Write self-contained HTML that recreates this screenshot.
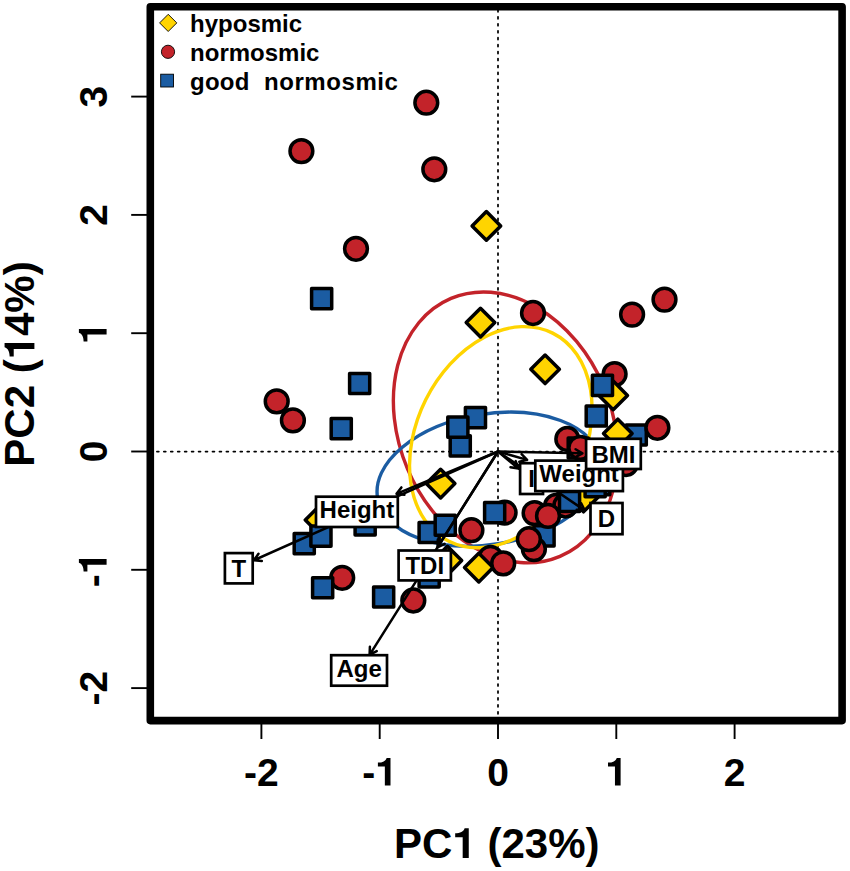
<!DOCTYPE html><html><head><meta charset="utf-8"><style>html,body{margin:0;padding:0;background:#fff}</style></head><body><svg width="850" height="871" viewBox="0 0 850 871" style="display:block;font-family:'Liberation Sans',sans-serif;font-weight:bold">
<rect width="850" height="871" fill="#fff"/>
<g stroke="#000" stroke-width="1.75" stroke-dasharray="1.9 5.05" stroke-dashoffset="-0.75" stroke-linecap="round" fill="none">
<path d="M498.0 9.15V720.6"/>
<path d="M149.20000000000002 451.5H842.1"/>
</g>
<g fill="none" stroke-width="3.4">
<ellipse cx="505.5" cy="427.4" rx="140.0" ry="106.4" transform="rotate(-112.9 505.5 427.4)" stroke="#C3232A"/>
<ellipse cx="489.2" cy="479.2" rx="113.2" ry="65.2" transform="rotate(170.5 489.2 479.2)" stroke="#1B5CA2"/>
<ellipse cx="500.8" cy="437.2" rx="116.3" ry="83.9" transform="rotate(-63.5 500.8 437.2)" stroke="#FFD400"/>
</g>
<g stroke="#000" stroke-width="3.5" stroke-linejoin="round">
<circle cx="426.3" cy="102.7" r="11.4" fill="#C3232A"/>
<circle cx="301.4" cy="151.1" r="11.4" fill="#C3232A"/>
<circle cx="434.3" cy="169.3" r="11.4" fill="#C3232A"/>
<circle cx="356" cy="248.8" r="11.4" fill="#C3232A"/>
<circle cx="276.7" cy="401.4" r="11.4" fill="#C3232A"/>
<circle cx="292.9" cy="420.4" r="11.4" fill="#C3232A"/>
<circle cx="533.0" cy="313.0" r="11.4" fill="#C3232A"/>
<circle cx="664.5" cy="299.6" r="11.4" fill="#C3232A"/>
<circle cx="632.1" cy="314.6" r="11.4" fill="#C3232A"/>
<path d="M486.4 211.6L500.7 225.9L486.4 240.20000000000002L472.09999999999997 225.9Z" fill="#FFD400"/>
<path d="M480.5 308.3L494.8 322.6L480.5 336.90000000000003L466.2 322.6Z" fill="#FFD400"/>
<path d="M545.1 355.0L559.4 369.3L545.1 383.6L530.8000000000001 369.3Z" fill="#FFD400"/>
<rect x="311.6" y="288.6" width="20.1" height="20.1" fill="#1B5CA2"/>
<rect x="349.6" y="373.4" width="20.1" height="20.1" fill="#1B5CA2"/>
<rect x="331.2" y="418.6" width="20.1" height="20.1" fill="#1B5CA2"/>
<rect x="465.4" y="407.6" width="20.1" height="20.1" fill="#1B5CA2"/>
<rect x="450.2" y="435.8" width="20.1" height="20.1" fill="#1B5CA2"/>
<rect x="447.8" y="417.1" width="20.1" height="20.1" fill="#1B5CA2"/>
<circle cx="614.6" cy="374.1" r="11.4" fill="#C3232A"/>
<path d="M613.2 381.09999999999997L627.5 395.4L613.2 409.7L598.9000000000001 395.4Z" fill="#FFD400"/>
<rect x="592.4" y="375.3" width="20.1" height="20.1" fill="#1B5CA2"/>
<rect x="586.2" y="405.9" width="20.1" height="20.1" fill="#1B5CA2"/>
<rect x="613.5" y="426.9" width="20.1" height="20.1" fill="#1B5CA2"/>
<rect x="626.2" y="424.9" width="20.1" height="20.1" fill="#1B5CA2"/>
<path d="M617.8 419.2L632.0999999999999 433.5L617.8 447.8L603.5 433.5Z" fill="#FFD400"/>
<circle cx="657.4" cy="427.8" r="11.4" fill="#C3232A"/>
<circle cx="567.3" cy="439.0" r="11.4" fill="#C3232A"/>
<rect x="568.2" y="437.9" width="20.1" height="20.1" fill="#1B5CA2"/>
<circle cx="580.3" cy="447.8" r="11.4" fill="#C3232A"/>
<circle cx="626" cy="464" r="11.4" fill="#C3232A"/>
<path d="M440.6 469.3L454.90000000000003 483.6L440.6 497.90000000000003L426.3 483.6Z" fill="#FFD400"/>
<circle cx="504.6" cy="512.6" r="11.4" fill="#C3232A"/>
<rect x="484.6" y="502.6" width="20.1" height="20.1" fill="#1B5CA2"/>
<circle cx="471.4" cy="530.2" r="11.4" fill="#C3232A"/>
<rect x="419.1" y="522.4" width="20.1" height="20.1" fill="#1B5CA2"/>
<rect x="435.2" y="515.2" width="20.1" height="20.1" fill="#1B5CA2"/>
<circle cx="490.5" cy="557.8" r="11.4" fill="#C3232A"/>
<path d="M478.8 553.3000000000001L493.1 567.6L478.8 581.9L464.5 567.6Z" fill="#FFD400"/>
<circle cx="503.2" cy="563.4" r="11.4" fill="#C3232A"/>
<path d="M447.4 546.3000000000001L461.7 560.6L447.4 574.9L433.09999999999997 560.6Z" fill="#FFD400"/>
<rect x="419.1" y="567.0" width="20.1" height="20.1" fill="#1B5CA2"/>
<rect x="373.6" y="587.0" width="20.1" height="20.1" fill="#1B5CA2"/>
<circle cx="413.3" cy="600.5" r="11.4" fill="#C3232A"/>
<circle cx="342.2" cy="577.8" r="11.4" fill="#C3232A"/>
<rect x="312.6" y="577.7" width="20.1" height="20.1" fill="#1B5CA2"/>
<path d="M319.6 505.7L333.90000000000003 520.0L319.6 534.3L305.3 520.0Z" fill="#FFD400"/>
<rect x="294.2" y="533.6" width="20.1" height="20.1" fill="#1B5CA2"/>
<rect x="310.9" y="526.1" width="20.1" height="20.1" fill="#1B5CA2"/>
<rect x="355.1" y="514.8" width="20.1" height="20.1" fill="#1B5CA2"/>
<circle cx="556" cy="506" r="11.4" fill="#C3232A"/>
<circle cx="565.4" cy="505.5" r="11.4" fill="#C3232A"/>
<rect x="534.0" y="525.8" width="20.1" height="20.1" fill="#1B5CA2"/>
<circle cx="533.9" cy="549.1" r="11.4" fill="#C3232A"/>
<circle cx="534.6" cy="513.1" r="11.4" fill="#C3232A"/>
<circle cx="548" cy="515.9" r="11.4" fill="#C3232A"/>
<circle cx="528.9" cy="539.2" r="11.4" fill="#C3232A"/>
<path d="M583.5 483.2L597.8 497.5L583.5 511.8L569.2 497.5Z" fill="#FFD400"/>
<rect x="559.5" y="491.4" width="20.1" height="20.1" fill="#1B5CA2"/>
<rect x="589.7" y="474.6" width="20.1" height="20.1" fill="#1B5CA2"/>
<rect x="585.1" y="476.6" width="20.1" height="20.1" fill="#1B5CA2"/>
</g>
<g stroke="#000" stroke-width="2.5" fill="none" stroke-linecap="round" stroke-linejoin="round">
<path d="M498.0 451.5L396.5 493.8M401.4 487.4L396.5 493.8L404.4 494.8"/>
<path d="M498.0 451.5L253.8 560.3M258.5 553.8L253.8 560.3L261.8 561.1"/>
<path d="M498.0 451.5L437.5 547.5M437.8 539.5L437.5 547.5L444.6 543.8"/>
<path d="M498.0 451.5L369.6 654.8M369.9 646.8L369.6 654.8L376.7 651.1"/>
<path d="M498.0 451.5L518.4 468.6M510.5 467.2L518.4 468.6L515.7 461.1"/>
<path d="M498.0 451.5L527.1 459.9M519.3 461.8L527.1 459.9L521.6 454.1"/>
<path d="M498.0 451.5L582.4 453.3M575.4 457.2L582.4 453.3L575.6 449.2"/>
<path d="M498.0 451.5L584.7 510.4M576.7 509.8L584.7 510.4L581.2 503.2"/>
</g>
<rect x="224.9" y="553.1" width="27.8" height="30.3" fill="#fff" stroke="#000" stroke-width="2.7"/>
<text x="238.8" y="576.8" font-size="24" text-anchor="middle">T</text>
<rect x="331.2" y="655.2" width="55.8" height="30.5" fill="#fff" stroke="#000" stroke-width="2.7"/>
<text x="359.1" y="676.6" font-size="24" text-anchor="middle">Age</text>
<rect x="398.6" y="550.5" width="52.3" height="29.9" fill="#fff" stroke="#000" stroke-width="2.7"/>
<text x="424.8" y="573.9" font-size="24" text-anchor="middle">TDI</text>
<rect x="316.0" y="496.7" width="81.8" height="30.3" fill="#fff" stroke="#000" stroke-width="2.7"/>
<text x="356.9" y="517.9" font-size="24" text-anchor="middle">Height</text>
<rect x="520.1" y="463.2" width="22.9" height="30.8" fill="#fff" stroke="#000" stroke-width="2.7"/>
<text x="531.5" y="487.1" font-size="24" text-anchor="middle">I</text>
<rect x="590.5" y="503.0" width="32.0" height="31.2" fill="#fff" stroke="#000" stroke-width="2.7"/>
<text x="606.5" y="527.1" font-size="24" text-anchor="middle">D</text>
<rect x="535.3" y="460.6" width="87.6" height="30.5" fill="#fff" stroke="#000" stroke-width="2.7"/>
<text x="579.1" y="481.9" font-size="24" text-anchor="middle">Weight</text>
<rect x="586.1" y="438.8" width="54.7" height="30.2" fill="#fff" stroke="#000" stroke-width="2.7"/>
<text x="613.5" y="462.5" font-size="24" text-anchor="middle">BMI</text>
<rect x="150.3" y="6.7" width="691.8" height="713.9" fill="none" stroke="#000" stroke-width="7.6" stroke-linejoin="round"/>
<g stroke="#000" stroke-width="1.9">
<path d="M261.4 720.6V739"/>
<path d="M379.7 720.6V739"/>
<path d="M498.0 720.6V739"/>
<path d="M616.3 720.6V739"/>
<path d="M734.6 720.6V739"/>
<path d="M150.3 688.1H131.2"/>
<path d="M150.3 569.8H131.2"/>
<path d="M150.3 451.5H131.2"/>
<path d="M150.3 333.2H131.2"/>
<path d="M150.3 214.9H131.2"/>
<path d="M150.3 96.6H131.2"/>
</g>
<g transform="translate(244.06 785.6)"><text x="0.00" y="0" font-size="39" xml:space="preserve">-2</text></g>
<g transform="translate(362.36 785.6)"><text x="0.00" y="0" font-size="39" xml:space="preserve">-</text><path d="M28.14 0.00V-27.70H24.29C23.39 -24.60 20.19 -23.00 15.54 -23.00V-19.20H22.49V0.00Z"/></g>
<g transform="translate(487.16 785.6)"><text x="0.00" y="0" font-size="39" xml:space="preserve">0</text></g>
<g transform="translate(605.46 785.6)"><path d="M15.15 0.00V-27.70H11.30C10.40 -24.60 7.20 -23.00 2.55 -23.00V-19.20H9.50V0.00Z"/></g>
<g transform="translate(723.76 785.6)"><text x="0.00" y="0" font-size="39" xml:space="preserve">2</text></g>
<g transform="translate(106.6 705.44) rotate(-90)"><text x="0.00" y="0" font-size="39" xml:space="preserve">-2</text></g>
<g transform="translate(106.6 587.14) rotate(-90)"><text x="0.00" y="0" font-size="39" xml:space="preserve">-</text><path d="M28.14 0.00V-27.70H24.29C23.39 -24.60 20.19 -23.00 15.54 -23.00V-19.20H22.49V0.00Z"/></g>
<g transform="translate(106.6 462.34) rotate(-90)"><text x="0.00" y="0" font-size="39" xml:space="preserve">0</text></g>
<g transform="translate(106.6 344.04) rotate(-90)"><path d="M15.15 0.00V-27.70H11.30C10.40 -24.60 7.20 -23.00 2.55 -23.00V-19.20H9.50V0.00Z"/></g>
<g transform="translate(106.6 225.74) rotate(-90)"><text x="0.00" y="0" font-size="39" xml:space="preserve">2</text></g>
<g transform="translate(106.6 107.44) rotate(-90)"><text x="0.00" y="0" font-size="39" xml:space="preserve">3</text></g>
<g transform="translate(394.11 858)"><text x="0.00" y="0" font-size="42" xml:space="preserve">PC</text><path d="M74.65 0.00V-29.83H70.51C69.54 -26.49 66.09 -24.77 61.08 -24.77V-20.68H68.57V0.00Z"/><text x="81.69" y="0" font-size="42" xml:space="preserve"> (23%)</text></g>
<g transform="translate(34.4 466.69) rotate(-90)"><text x="0.00" y="0" font-size="42" xml:space="preserve">PC2 (</text><path d="M123.67 0.00V-29.83H119.52C118.55 -26.49 115.11 -24.77 110.10 -24.77V-20.68H117.58V0.00Z"/><text x="130.70" y="0" font-size="42" xml:space="preserve">4%)</text></g>
<g stroke="#000" stroke-width="0.9">
<path d="M168.2 14.299999999999999L176.79999999999998 22.9L168.2 31.5L159.6 22.9Z" fill="#FFD400"/>
<circle cx="168" cy="51.8" r="6.6" fill="#C3232A"/>
<rect x="160.7" y="74.2" width="12.8" height="12.8" fill="#1B5CA2"/>
</g>
<text x="190.1" y="32.3" font-size="24">hyposmic</text>
<text x="190.1" y="61.3" font-size="24">normosmic</text>
<text x="190.1" y="90.1" font-size="24" letter-spacing="0.2">good</text>
<text x="264" y="90.1" font-size="24" letter-spacing="0.57">normosmic</text>
</svg></body></html>
